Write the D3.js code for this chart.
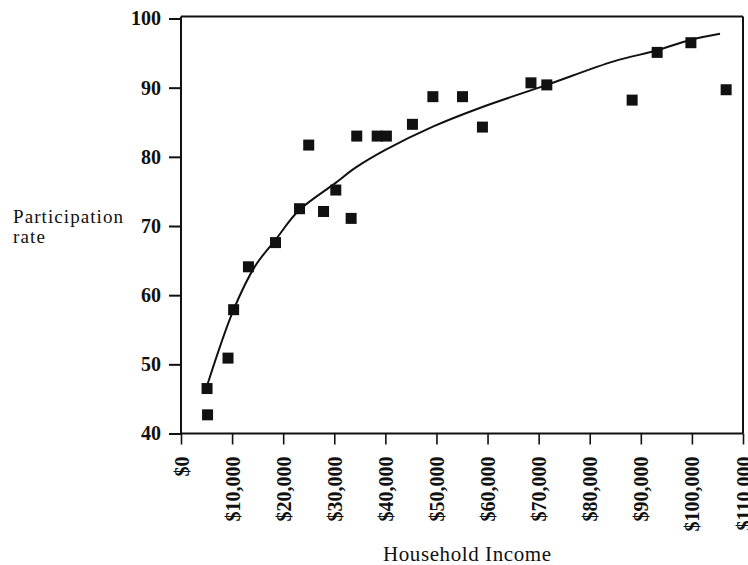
<!DOCTYPE html>
<html>
<head>
<meta charset="utf-8">
<script src="https://cdn.jsdelivr.net/npm/d3@7/dist/d3.min.js"></script>
<style>
  html, body { margin: 0; padding: 0; background: #fff; }
  svg { display: block; }
  text { font-family: "Liberation Serif", "Times New Roman", serif; fill: #111; }
</style>
</head>
<body>
<script>
// ---- data ----
const incomes      = [5100, 5200, 9200, 10300, 13200, 18500, 23200, 25000, 27900, 30300, 33300, 34400,
                      38400, 40200, 45300, 49300, 55100, 59000, 68500, 71600, 88300, 93200, 99800, 106700];
const rates        = [46.5, 42.7, 50.9, 57.9, 64.1, 67.6, 72.5, 81.7, 72.1, 75.2, 71.1, 83.0,
                      83.0, 83.0, 84.7, 88.7, 88.7, 84.3, 90.7, 90.4, 88.2, 95.1, 96.5, 89.7];
const curveIncomes = [5100, 10300, 14500, 18500, 23000, 30200, 34100, 40000, 49400, 58600, 71600, 84700, 93200, 99700, 105500];
const curveRates   = [46.9, 57.9, 64.2, 68.0, 72.2, 76.2, 78.4, 81.0, 84.4, 87.1, 90.4, 93.8, 95.4, 96.9, 97.8];
const xTicks = [0, 10000, 20000, 30000, 40000, 50000, 60000, 70000, 80000, 90000, 100000, 110000];
const yTicks = [40, 50, 60, 70, 80, 90, 100];
const xTitle = "Household Income";
const yTitleLines = ["Participation", "rate"];

// ---- layout ----
const W = 748, H = 565;
const svg = d3.select("body").append("svg").attr("width", W).attr("height", H);

const x = d3.scaleLinear().domain([0, 110000]).range([181, 743]);
const y = d3.scaleLinear().domain([40, 100]).range([433.5, 18.5]);

// frame (top and right borders)
svg.append("line")
  .attr("x1", x(0)).attr("x2", x(110000)).attr("y1", y(100) - 2).attr("y2", y(100) - 2)
  .attr("stroke", "#111").attr("stroke-width", 2);
svg.append("line")
  .attr("x1", x(110000)).attr("x2", x(110000)).attr("y1", y(100) - 2).attr("y2", y(40))
  .attr("stroke", "#111").attr("stroke-width", 2);

// y axis
const yAxis = svg.append("g").attr("transform", `translate(${x(0)},0)`)
  .call(d3.axisLeft(y).tickValues(yTicks).tickSize(12).tickPadding(8).tickFormat(d3.format("d")));
yAxis.select(".domain").attr("d", `M0,${y(100) - 2}V${y(40)}`).attr("stroke", "#111").attr("stroke-width", 2);
yAxis.selectAll(".tick line").attr("stroke", "#111").attr("stroke-width", 2);
yAxis.selectAll(".tick text")
  .style("font-family", '"Liberation Serif", serif').style("font-size", "20px").style("font-weight", "bold")
  .attr("fill", "#111");

// x axis
const fmt = d => "$" + d3.format(",")(d);
const xAxis = svg.append("g").attr("transform", `translate(0,${y(40)})`)
  .call(d3.axisBottom(x).tickValues(xTicks).tickSize(11).tickFormat(fmt));
xAxis.select(".domain").attr("d", `M${x(0)},0H${x(110000)}`).attr("stroke", "#111").attr("stroke-width", 2);
xAxis.selectAll(".tick line").attr("stroke", "#111").attr("stroke-width", 1.6);
xAxis.selectAll(".tick text")
  .attr("transform", "rotate(-90)")
  .attr("text-anchor", "end")
  .attr("x", -23).attr("y", 0).attr("dy", "0.35em")
  .style("font-family", '"Liberation Serif", serif').style("font-size", "20px").style("font-weight", "bold")
  .attr("fill", "#111");

// titles
svg.append("text")
  .attr("x", 467).attr("y", 560.5).attr("text-anchor", "middle")
  .style("font-size", "21px").attr("textLength", 168).attr("lengthAdjust", "spacing")
  .text(xTitle);
svg.selectAll("text.ytitle").data(yTitleLines).join("text")
  .attr("class", "ytitle")
  .attr("x", 13).attr("y", (d, i) => 222.5 + i * 20)
  .style("font-size", "19px")
  .attr("textLength", (d, i) => i === 0 ? 110 : 32).attr("lengthAdjust", "spacing")
  .text(d => d);

// fitted curve
const pts = curveIncomes.map((d, i) => [d, curveRates[i]]);
svg.append("path")
  .datum(pts)
  .attr("fill", "none").attr("stroke", "#111").attr("stroke-width", 2)
  .attr("d", d3.line().x(d => x(d[0])).y(d => y(d[1])).curve(d3.curveCatmullRom.alpha(0.5)));

// markers
const S = 11;
svg.append("g").selectAll("rect")
  .data(incomes.map((d, i) => ({ inc: d, r: rates[i] })))
  .join("rect")
  .attr("x", d => x(d.inc) - S / 2).attr("y", d => y(d.r) - S / 2)
  .attr("width", S).attr("height", S).attr("fill", "#111");
</script>
</body>
</html>
